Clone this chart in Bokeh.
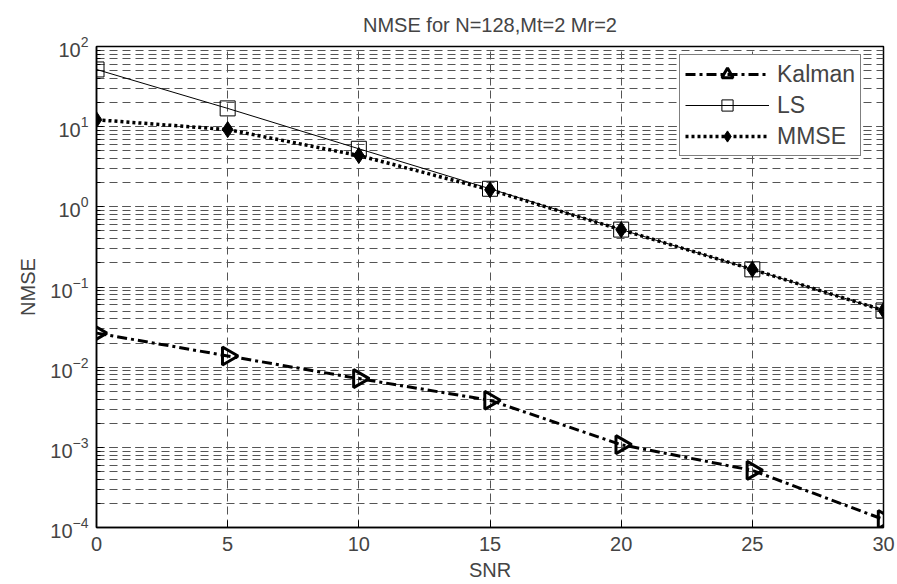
import numpy as np
from bokeh.plotting import figure
from bokeh.models import (FixedTicker, Legend, LegendItem, Range1d, LogTicker,
                          ColumnDataSource, Title)
from bokeh.embed import file_html
from bokeh.resources import INLINE

snr = [0, 5, 10, 15, 20, 25, 30]
kalman = [0.0266, 0.0138, 0.0072, 0.00386, 0.00108, 0.000516, 0.000126]
ls = [51.7, 16.9, 5.3, 1.68, 0.52, 0.166, 0.051]
mmse = [12.2, 9.2, 4.37, 1.63, 0.518, 0.166, 0.051]
x_ticks = [0, 5, 10, 15, 20, 25, 30]

FONT = "Liberation Sans"

p = figure(width=897, height=584, y_axis_type="log",
           x_range=Range1d(0, 30), y_range=Range1d(1e-4, 1e2),
           output_backend="svg", toolbar_location=None,
           title="NMSE for N=128,Mt=2 Mr=2",
           min_border_left=96, min_border_right=14,
           min_border_top=46, min_border_bottom=57)

p.title.align = "center"
p.title.text_font = FONT
p.title.text_font_size = "20px"
p.title.text_font_style = "normal"
p.title.offset = 0
p.title.standoff = 0

# spacer between title and frame
p.add_layout(Title(text=" ", text_font_size="8px", standoff=0), "above")

p.outline_line_color = "black"
p.outline_line_width = 1.5
p.background_fill_color = "white"
p.border_fill_color = "white"

xa = p.xaxis[0]
xa.ticker = FixedTicker(ticks=x_ticks)
xa.axis_label = "SNR"
ya = p.yaxis[0]
ya.ticker = LogTicker(desired_num_ticks=7, num_minor_ticks=10)
ya.axis_label = "NMSE"
for ax in (xa, ya):
    ax.major_label_text_font = FONT
    ax.major_label_text_font_size = "20px"
    ax.axis_label_text_font = FONT
    ax.axis_label_text_font_size = "20px"
    ax.axis_label_text_font_style = "normal"
    ax.major_tick_in = 7
    ax.major_tick_out = 0
    ax.minor_tick_in = 4
    ax.minor_tick_out = 0
    ax.axis_line_color = "black"
    ax.axis_line_width = 1.5
xa.axis_label_standoff = 5
xa.major_label_standoff = 9
ya.axis_label_standoff = 8
ya.major_label_standoff = 8

p.xgrid.ticker = FixedTicker(ticks=x_ticks)
for g in (p.xgrid[0], p.ygrid[0]):
    g.grid_line_color = "#555555"
    g.grid_line_dash = "8 5"
    g.grid_line_width = 1
p.ygrid[0].minor_grid_line_color = "#555555"
p.ygrid[0].minor_grid_line_dash = "8 5"
p.ygrid[0].minor_grid_line_width = 1

ksrc = ColumnDataSource(dict(x=snr, y=kalman, ang=[-np.pi / 2] * len(snr)))

k_line = p.line(snr, kalman, line_color="black", line_width=3, line_dash="10 4 3 4")
k_mark = p.scatter("x", "y", source=ksrc, marker="triangle", size=18, angle="ang",
                   fill_color="white", fill_alpha=0, line_color="black", line_width=3)
l_line = p.line(snr, ls, line_color="black", line_width=1)
l_mark = p.scatter(snr, ls, marker="square", size=15, fill_alpha=0,
                   line_color="black", line_width=1)
m_line = p.line(snr, mmse, line_color="black", line_width=3.5, line_dash="3 3")
m_mark = p.scatter(snr, mmse, marker="diamond", size=16, fill_color="black",
                   line_color="black", line_width=1)

legend = Legend(items=[
    LegendItem(label="Kalman", renderers=[k_line, k_mark], index=0),
    LegendItem(label="LS", renderers=[l_line, l_mark]),
    LegendItem(label="MMSE", renderers=[m_line, m_mark]),
], location=(583, 371))
legend.glyph_width = 84
legend.glyph_height = 28
legend.label_height = 28
legend.label_standoff = 8
legend.spacing = 3
legend.padding = 5
legend.label_text_font = FONT
legend.label_text_font_size = "23px"
legend.border_line_color = "black"
legend.border_line_width = 1.5
legend.background_fill_alpha = 1
p.add_layout(legend)

open("out.html", "w").write(file_html(p, INLINE))
